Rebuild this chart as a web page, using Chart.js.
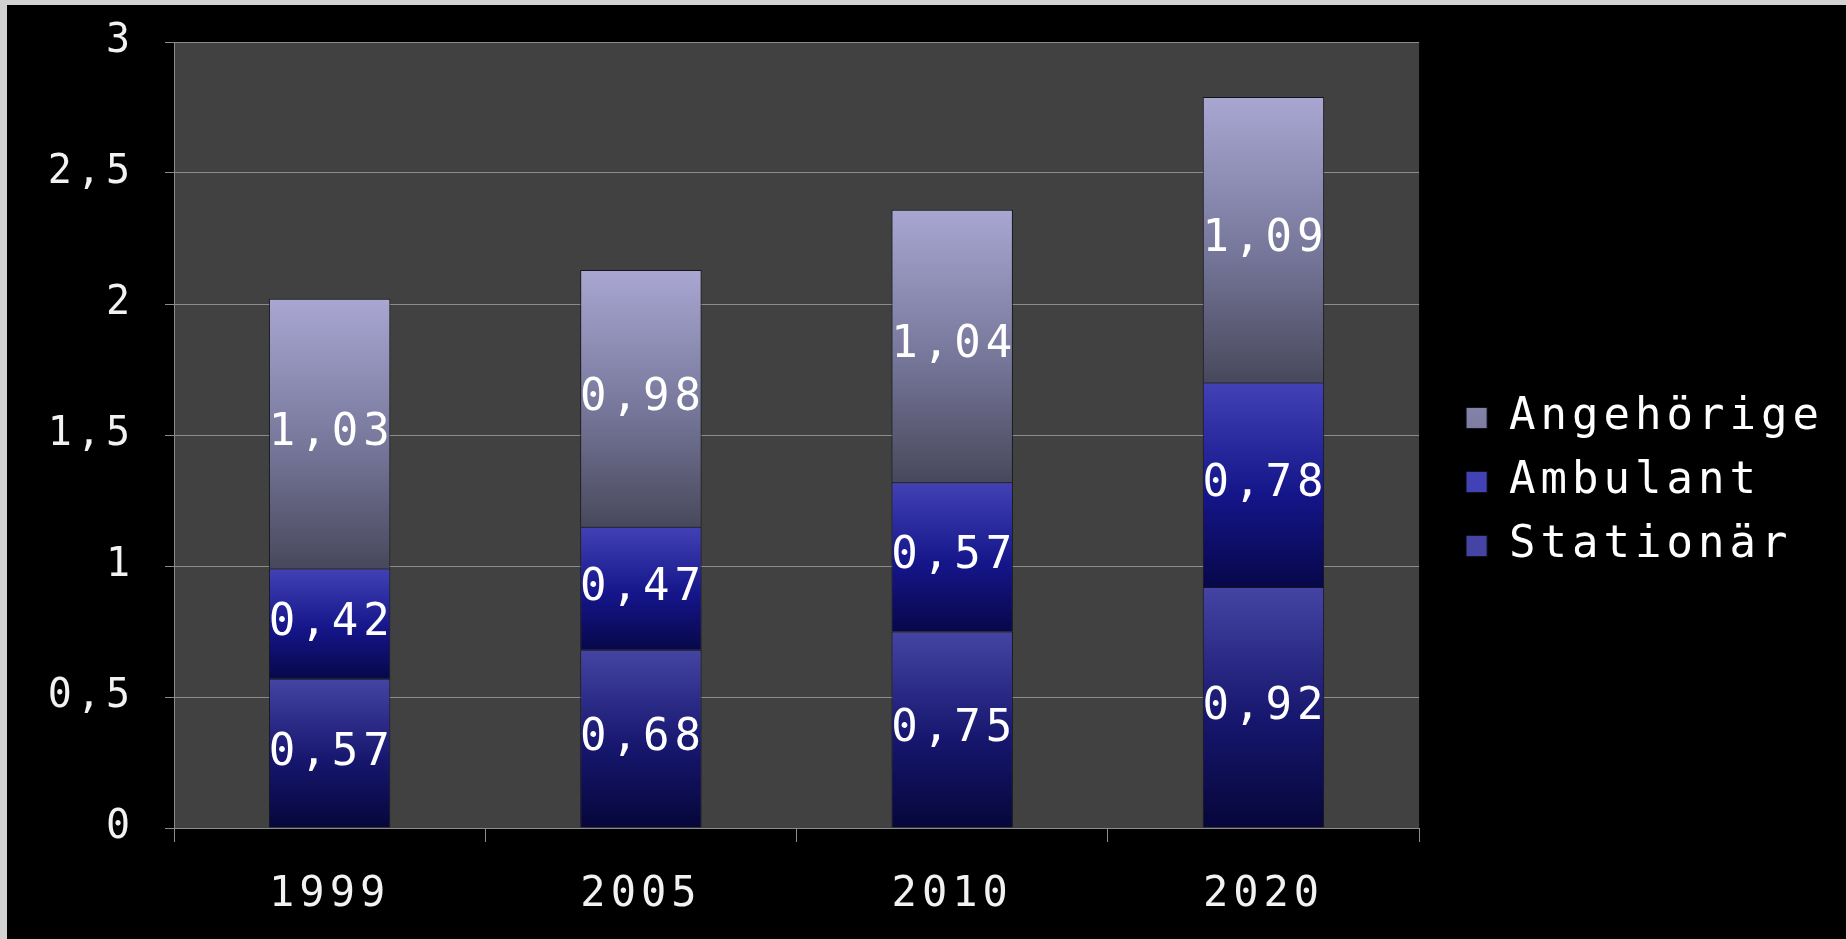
<!DOCTYPE html>
<html>
<head>
<meta charset="utf-8">
<script src="https://cdn.jsdelivr.net/npm/chart.js@4.4.1/dist/chart.umd.min.js"></script>
<style>
    html, body { margin: 0; padding: 0; background: #000; overflow: hidden; }
    #frame {
        position: absolute; left: 0; top: 0; width: 1846px; height: 939px;
        box-sizing: border-box; border-left: 7px solid #d2d2d2; border-top: 5px solid #d2d2d2;
        background: #000;
    }
    #wrap { position: relative; width: 1839px; height: 934px; }
</style>
</head>
<body>
<div id="frame"><div id="wrap"><canvas id="chart"></canvas></div></div>
<script>
// Datos del gráfico
const years = ['1999', '2005', '2010', '2020'];
const stationaer = [0.57, 0.68, 0.75, 0.92];
const ambulant = [0.42, 0.47, 0.57, 0.78];
const angehoerige = [1.03, 0.98, 1.04, 1.09];
const yTicks = [0, 0.5, 1, 1.5, 2, 2.5, 3];

const FONT = '"DejaVu Sans Mono", "Liberation Mono", monospace';
const SPACING = '5px';

// Degradados de cada serie (arriba, medio, abajo)
const fills = {
    stationaer: ['#4444a4', '#16166e', '#06063a'],
    ambulant: ['#4242b6', '#15158a', '#07074a'],
    angehoerige: ['#a9a7d2', '#76769a', '#48485c']
};
const legendFills = {
    stationaer: '#24248a',
    ambulant: '#2a2ab0',
    angehoerige: '#9a98c4'
};

function fmt(v) {
    return String(v).replace('.', ',');
}

function segmentFill(stops, flat) {
    return function(context) {
        const chart = context.chart;
        if (!chart.chartArea || context.type !== 'data') return flat;
        const y = chart.scales.y;
        const i = context.dataIndex;
        let start = 0;
        for (let k = 0; k < context.datasetIndex; k++) start += chart.data.datasets[k].data[i];
        const end = start + chart.data.datasets[context.datasetIndex].data[i];
        const g = chart.ctx.createLinearGradient(0, y.getPixelForValue(end), 0, y.getPixelForValue(start));
        g.addColorStop(0, stops[0]);
        g.addColorStop(0.55, stops[1]);
        g.addColorStop(1, stops[2]);
        return g;
    };
}

// Fondo gris del área del gráfico y espaciado de letras
const plotBackground = {
    id: 'plotBackground',
    beforeLayout(chart) {
        chart.ctx.letterSpacing = SPACING;
    },
    beforeDraw(chart) {
        const {ctx, chartArea} = chart;
        ctx.letterSpacing = SPACING;
        ctx.save();
        ctx.fillStyle = '#414141';
        ctx.fillRect(chartArea.left, chartArea.top, chartArea.right - chartArea.left, chartArea.bottom - chartArea.top);
        ctx.restore();
    }
};

// Etiquetas de valor en el centro de cada segmento
const valueLabels = {
    id: 'valueLabels',
    afterDatasetsDraw(chart) {
        const ctx = chart.ctx;
        ctx.save();
        ctx.letterSpacing = SPACING;
        ctx.font = '44px ' + FONT;
        ctx.fillStyle = '#ffffff';
        ctx.textAlign = 'center';
        ctx.textBaseline = 'middle';
        chart.data.datasets.forEach((ds, di) => {
            chart.getDatasetMeta(di).data.forEach((bar, i) => {
                ctx.fillText(fmt(ds.data[i]), bar.x + 2, (bar.y + bar.base) / 2);
            });
        });
        ctx.restore();
    }
};

const ctx = document.getElementById('chart');

new Chart(ctx, {
    type: 'bar',
    data: {
        labels: years,
        datasets: [
            {
                label: 'Stationär',
                data: stationaer,
                backgroundColor: segmentFill(fills.stationaer, legendFills.stationaer),
                borderColor: 'rgba(15, 15, 25, 0.9)',
                borderWidth: 1
            },
            {
                label: 'Ambulant',
                data: ambulant,
                backgroundColor: segmentFill(fills.ambulant, legendFills.ambulant),
                borderColor: 'rgba(15, 15, 25, 0.9)',
                borderWidth: 1
            },
            {
                label: 'Angehörige',
                data: angehoerige,
                backgroundColor: segmentFill(fills.angehoerige, legendFills.angehoerige),
                borderColor: 'rgba(15, 15, 25, 0.9)',
                borderWidth: 1
            }
        ]
    },
    options: {
        responsive: true,
        maintainAspectRatio: false,
        animation: false,
        categoryPercentage: 1,
        barPercentage: 0.39,
        layout: {
            padding: { top: 37, right: 12, left: 0, bottom: 17 }
        },
        plugins: {
            tooltip: { enabled: false },
            legend: {
                position: 'right',
                reverse: true,
                labels: {
                    color: '#ffffff',
                    font: { family: FONT, size: 44 },
                    boxWidth: 21,
                    boxHeight: 21,
                    padding: 20
                }
            }
        },
        scales: {
            x: {
                stacked: true,
                grid: {
                    display: true,
                    drawOnChartArea: false,
                    drawTicks: true,
                    tickLength: 14,
                    color: '#8c8c8c'
                },
                border: { color: '#8c8c8c', width: 1 },
                ticks: {
                    color: '#f2f2f2',
                    font: { family: FONT, size: 42 },
                    padding: 28
                },
                afterFit(scale) { scale.height = 94; }
            },
            y: {
                stacked: true,
                min: 0,
                max: 3,
                afterBuildTicks(scale) {
                    scale.ticks = yTicks.map(v => ({ value: v }));
                },
                grid: {
                    color: '#8c8c8c',
                    tickLength: 9,
                    lineWidth: 1
                },
                border: { color: '#8c8c8c', width: 1 },
                ticks: {
                    color: '#f2f2f2',
                    font: { family: FONT, size: 40 },
                    padding: 30,
                    callback: v => fmt(v)
                },
                afterFit(scale) {
                    scale.width = 167;
                    scale.paddingTop = 0;
                    scale.paddingBottom = 0;
                }
            },
            // Eje invisible: separa el área del gráfico de la leyenda
            y2: {
                position: 'right',
                display: false,
                afterFit(scale) { scale.width = 27; }
            }
        }
    },
    plugins: [plotBackground, valueLabels]
});
</script>
</body>
</html>
